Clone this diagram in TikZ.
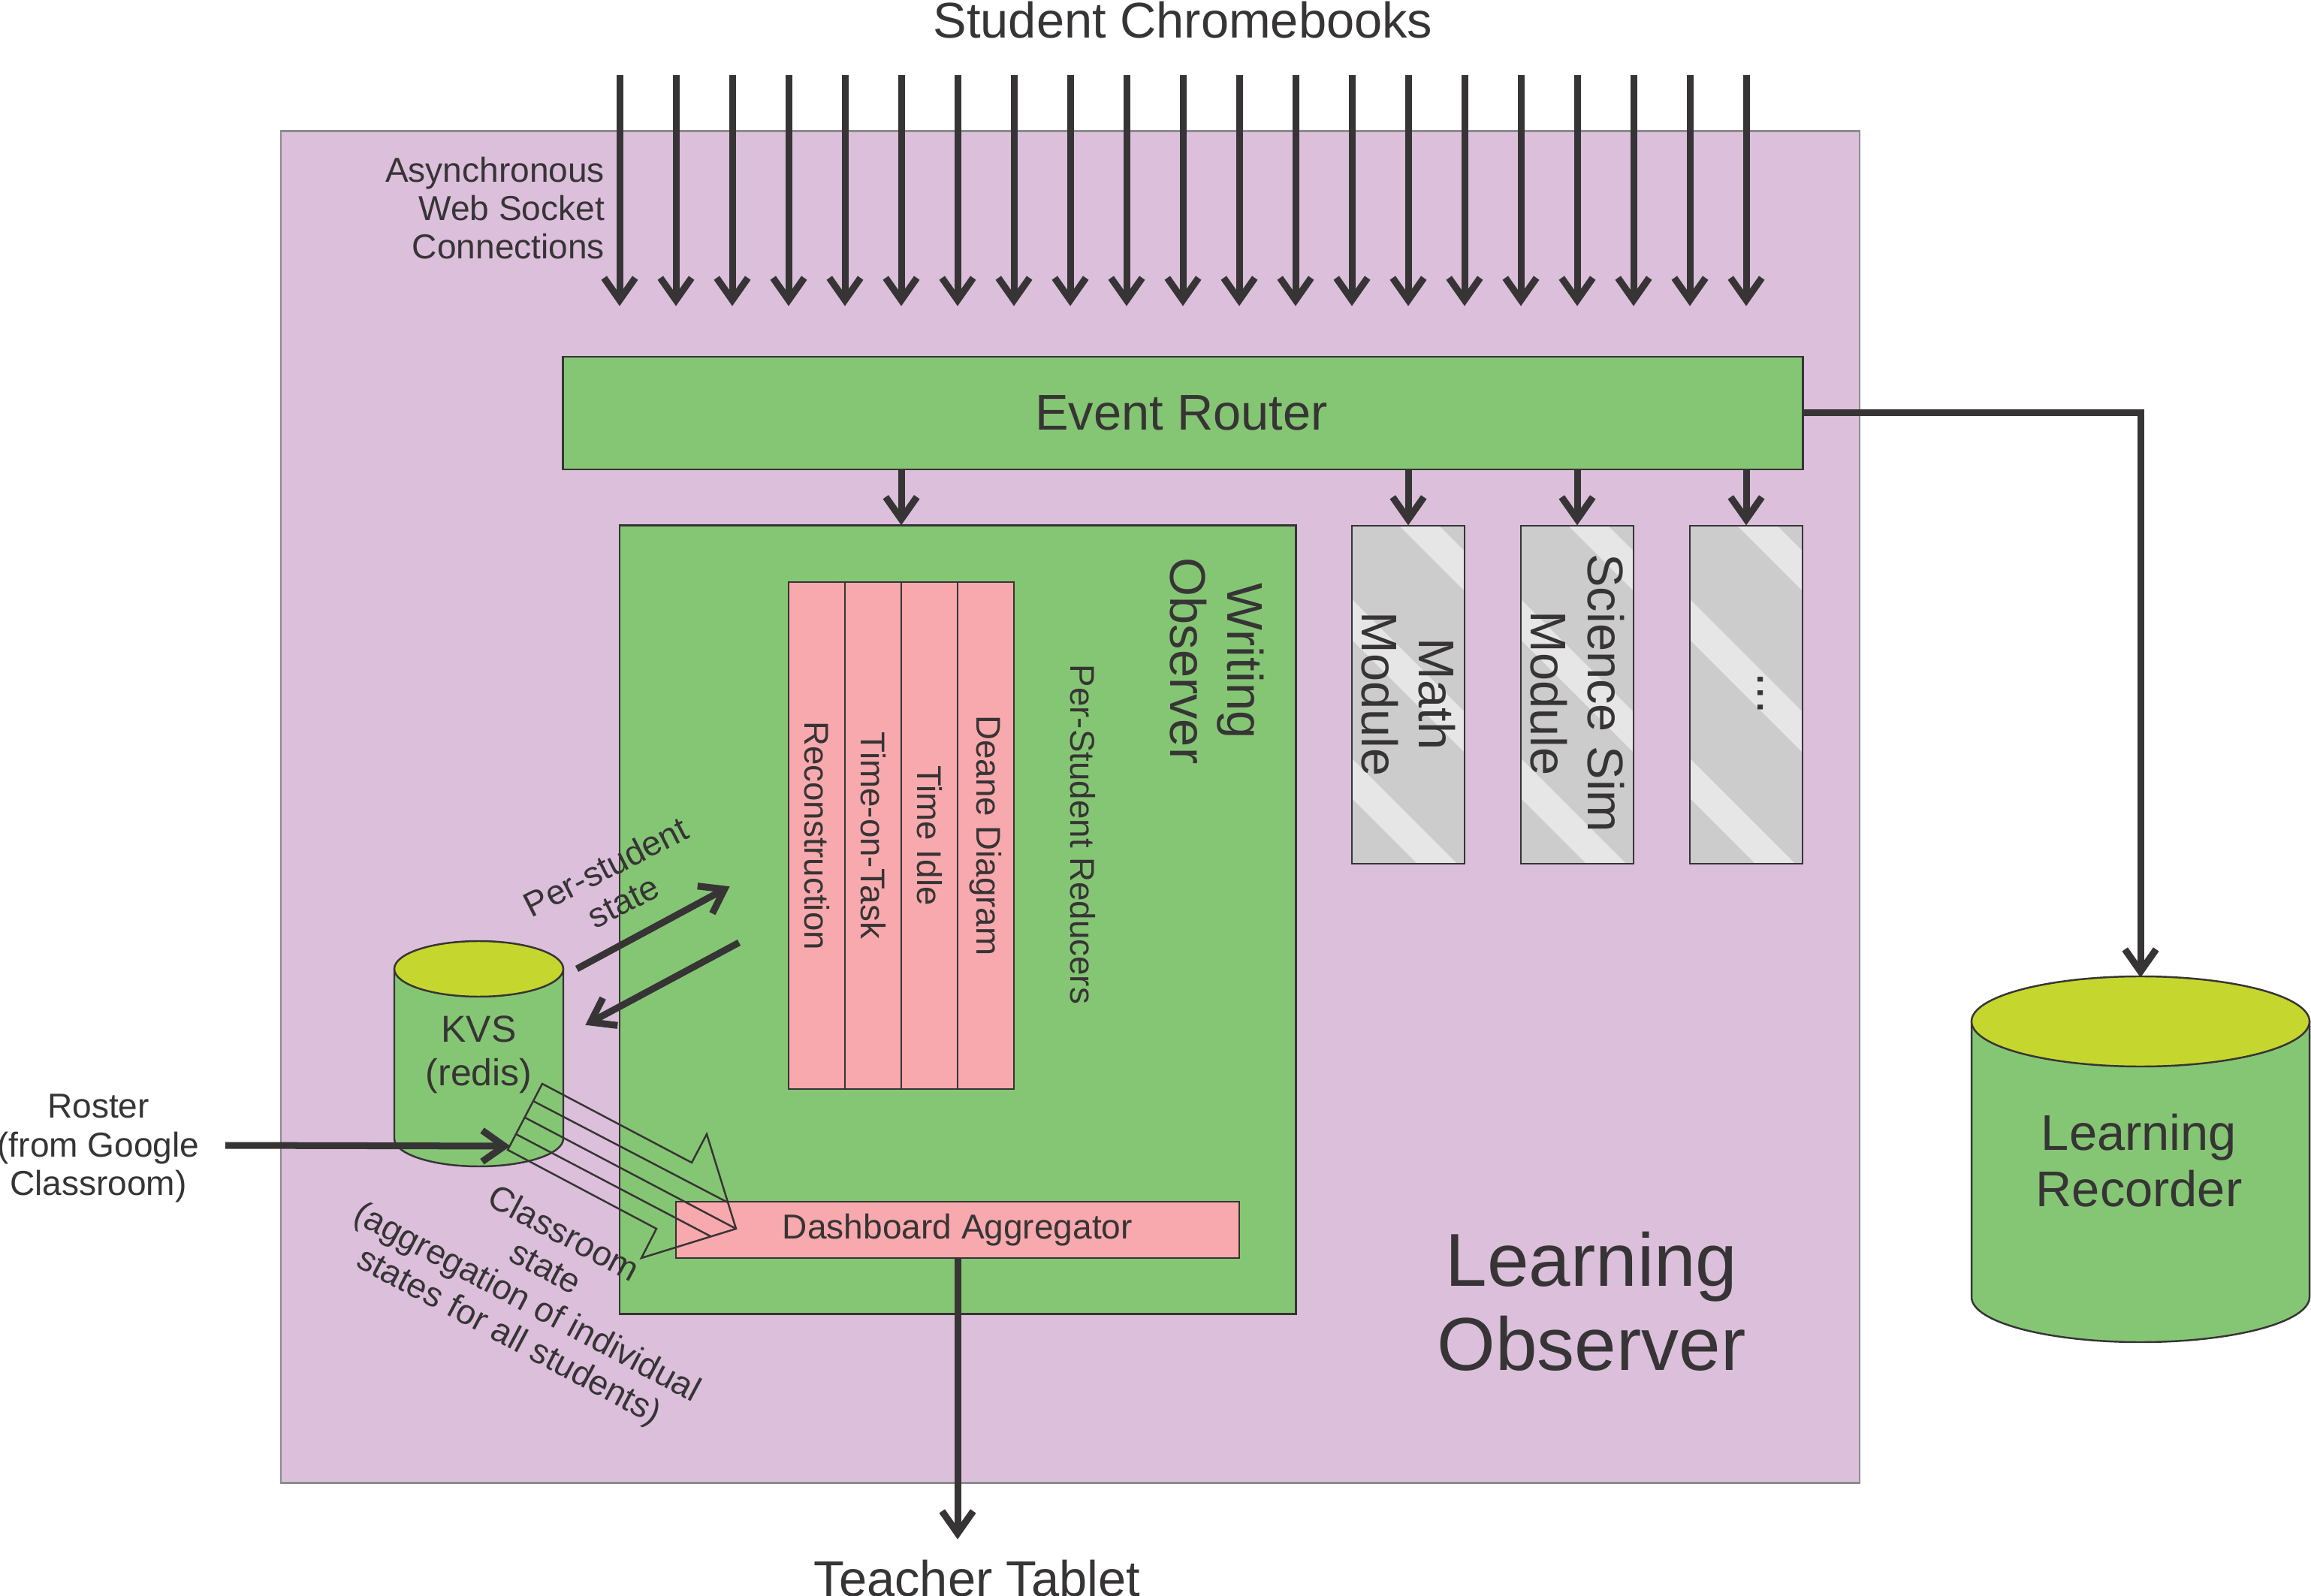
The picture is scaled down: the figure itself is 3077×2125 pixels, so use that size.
\documentclass[tikz,border=0pt]{standalone}
\usepackage{fontspec}
\setmainfont{Liberation Sans}
\usetikzlibrary{arrows.meta}
\definecolor{ink}{HTML}{373435}
\definecolor{lilac}{HTML}{DBBFDB}
\definecolor{leaf}{HTML}{85C674}
\definecolor{rose}{HTML}{F8A9AE}
\definecolor{lime}{HTML}{C5D62E}
\definecolor{stripeA}{HTML}{CCCCCC}
\definecolor{stripeB}{HTML}{E6E6E6}
\newcommand{\fsz}[2]{\fontsize{#1pt}{#2pt}\selectfont}
\pgfdeclarearrow{
  name=Chev,
  setup code={
    \pgfarrowssettipend{0pt}
    \pgfarrowssetlineend{-4pt}
    \pgfarrowssetbackend{-10.8pt}
    \pgfarrowssetvisualbackend{-4pt}
    \pgfarrowshullpoint{0pt}{0pt}
    \pgfarrowsupperhullpoint{-10.8pt}{6.5pt}
  },
  drawing code={
    \pgfsetlinewidth{2.6pt}
    \pgfsetbuttcap
    \pgfsetmiterjoin
    \pgfpathmoveto{\pgfpoint{-10.8pt}{5.9pt}}
    \pgfpathlineto{\pgfpoint{-2.4pt}{0pt}}
    \pgfpathlineto{\pgfpoint{-10.8pt}{-5.9pt}}
    \pgfusepathqstroke
  }
}
\tikzset{
  x=0.01cm,y=-0.01cm,
  every node/.style={text=ink,inner sep=0pt,outer sep=0pt,align=center},
  boxed/.style={draw=ink,line width=0.7pt,minimum width=#1},
  arr/.style={draw=ink,line width=0.09cm,-{Chev}},
  thinline/.style={draw=ink,line width=0.7pt},
  largetext/.style={font=\fsz{19}{21.6}},
  smalltext/.style={font=\fsz{13.1}{14.6}},
  striped/.style={fill=stripeA,minimum width=1.5cm,minimum height=4.5cm},
  band/.style={fill=stripeB},
}
\begin{document}
\begin{tikzpicture}
\useasboundingbox (0,0) rectangle (3077,2125);
% containers
\node[fill=lilac,draw=black!45,line width=0.6pt,minimum width=21cm,minimum height=17.99cm] (lo) at (1425,1074.5) {};
\node[boxed=16.5cm,fill=leaf,minimum height=1.5cm] (router) at (1575,550) {};
\node[largetext] (routert) at (1573,550) {Event Router};
\node[boxed=9cm,fill=leaf,minimum height=10.49cm] (wo) at (1275,1224.5) {};
% modules
\foreach \n/\cx in {math/1875,sim/2100,etc/2325}{
  \node[striped] (\n) at (\cx,925) {};
  \begin{scope}
    \clip (\n.north west) rectangle (\n.south east);
    \begin{scope}[shift={(\n.north west)}]
      \foreach \a/\b in {63/116,-152/-98,-363/-310}{
        \fill[band] (\a-500,-500) -- (\b-500,-500) -- (\b+700,700) -- (\a+700,700) -- cycle;
      }
    \end{scope}
  \end{scope}
  \draw[thinline] (\n.north west) rectangle (\n.south east);
}
% reducers
\foreach \n/\cx/\t in {r1/1087.5/Reconstruction,r2/1162.5/Time-on-Task,r3/1237.5/Time Idle,r4/1312.5/Deane Diagram}{
  \node[boxed=0.75cm,fill=rose,minimum height=6.75cm] (\n) at (\cx,1112.5) {};
  \node[rotate=-90,font=\fsz{13}{15}] (\n t) at (\cx,1112.5) {\t};
}
\node[boxed=7.5cm,fill=rose,minimum height=0.75cm,font=\fsz{13.1}{15}] (dash) at (1275,1637.5) {Dashboard Aggregator};
% KVS cylinder
\filldraw[fill=leaf,draw=ink,line width=0.7pt] (525,1290) -- (525,1516) arc[start angle=180,end angle=0,x radius=112.5,y radius=37] -- (750,1290) -- cycle;
\filldraw[fill=lime,draw=ink,line width=0.7pt] (637.5,1290) ellipse[x radius=112.5,y radius=37];
\node[font=\fsz{14.2}{16.6}] (kvs) at (637.5,1404) {KVS\\(redis)};
% recorder cylinder
\filldraw[fill=leaf,draw=ink,line width=0.7pt] (2625,1360) -- (2625,1727) arc[start angle=180,end angle=0,x radius=225,y radius=60] -- (3075,1360) -- cycle;
\filldraw[fill=lime,draw=ink,line width=0.7pt] (2850,1360) ellipse[x radius=225,y radius=60];
\node[font=\fsz{19}{21.2}] (rec) at (2848,1545) {Learning\\Recorder};
\coordinate (rectop) at (2850,1302);
% labels
\node[font=\fsz{19}{21}] (sc) at (1575,27) {Student Chromebooks};
\node[font=\fsz{19}{20}] (tt) at (1301,2102) {Teacher Tablet};
\node[font=\fsz{28.4}{32}] (lot) at (2119,1733) {Learning\\Observer};
\node[smalltext,align=right,anchor=east] (async) at (805,277) {Asynchronous\\Web Socket\\Connections};
\node[smalltext] (roster) at (131,1529) {Roster\\(from Google\\Classroom)};
\node[rotate=-90,largetext] (wot) at (1620,880) {Writing\\Observer};
\node[rotate=-90,font=\fsz{13}{15}] (psr) at (1442,1111) {Per-Student Reducers};
\node[rotate=-90,largetext] (matht) at (1875,924) {Math\\Module};
\node[rotate=-90,largetext] (simt) at (2100,923) {Science Sim\\Module};
\node[rotate=-90,largetext] (etct) at (2344,923) {...};
\node[rotate=27,smalltext] (pss) at (818,1177) {Per-student\\state};
\node[rotate=-28,smalltext] (css) at (713,1713) {Classroom\\state\\(aggregation of individual\\states for all students)};
% chromebook arrows
\foreach \i in {0,...,20}{
  \coordinate (cs\i) at ({825+75*\i},100);
  \coordinate (ce\i) at ({825+75*\i},408);
  \draw[arr] (cs\i) -- (ce\i);
}
% router connectors
\draw[arr] (router.south -| 1200,0) -- (wo.north -| 1200,0);
\draw[arr] (router.south -| math.north) -- (math.north);
\draw[arr] (router.south -| sim.north) -- (sim.north);
\draw[arr] (router.south -| etc.north) -- (etc.north);
\draw[arr] (router.east) -| (rectop);
\draw[arr] (dash.south) -- (1275,2050);
% roster
\coordinate (rs) at (300,1525);
\coordinate (re) at (680,1526);
\draw[arr] (rs) -- (re);
% state arrows
\coordinate (p1) at (768,1290); \coordinate (p2) at (972,1180);
\coordinate (q1) at (984,1255); \coordinate (q2) at (779,1365);
\draw[arr] (p1) -- (p2);
\draw[arr] (q1) -- (q2);
% hollow striped arrow
\draw[thinline,line join=miter] (722,1443) -- (921,1548) -- (941,1510) -- (980,1636) -- (854,1675) -- (874,1636) -- (676,1531) -- cycle;
\draw[thinline] (710,1466) -- (969,1601);
\draw[thinline] (699,1488) -- (980,1636);
\draw[thinline] (687,1510) -- (946,1646);
\end{tikzpicture}
\end{document}
